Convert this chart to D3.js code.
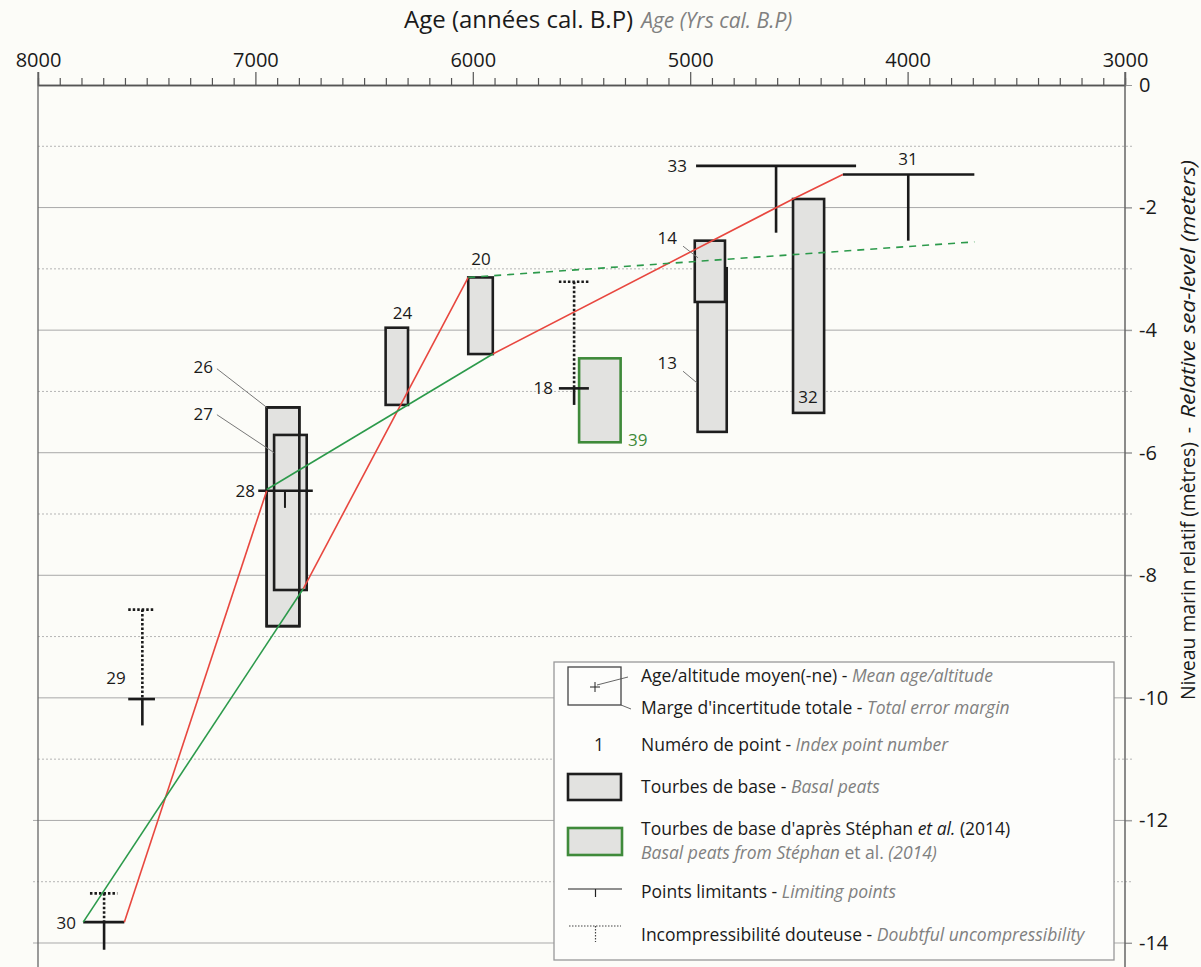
<!DOCTYPE html>
<html><head><meta charset="utf-8">
<script src="https://cdn.jsdelivr.net/npm/d3@7"></script>
<style>
body{margin:0;background:#fcfcf8}
svg{display:block}
text{font-family:"Open Sans",Lato,sans-serif;fill:#1a1a1a}
</style></head><body>
<svg id="c" width="1201" height="967"></svg>
<script>
// ---------- data ----------
const xMajorTicks = [8000, 7000, 6000, 5000, 4000, 3000];
const yTicks = [0, -2, -4, -6, -8, -10, -12, -14];

// basal peats (index points)
const peatId       = [26, 27, 24, 20, 13, 14, 32];
const peatAgeOld   = [6948, 6914, 6401, 6021, 4966, 4979, 4527];
const peatAgeYoung = [6798, 6764, 6298, 5908, 4832, 4840, 4384];
const peatTop      = [-5.26, -5.71, -3.96, -3.14, -2.99, -2.54, -1.86];
const peatBottom   = [-8.83, -8.24, -5.22, -4.39, -5.66, -3.54, -5.35];

// basal peats from Stéphan et al. (2014)
const stephanAgeOld   = [5511];
const stephanAgeYoung = [5320];
const stephanTop      = [-4.46];
const stephanBottom   = [-5.83];

// limiting points
const limId        = [33, 31, 28, 29, 30, 18];
const limAgeOld    = [4973, 4298, 6987, 7585, 7792, 5604];
const limAgeYoung  = [4237, 3693, 6736, 7462, 7603, 5466];
const limAgeMean   = [4605, 3997, 6864, 7520, 7696, 5534];
const limLevel     = [-1.32, -1.46, -6.62, -10.02, -13.66, -4.95];
const limLow       = [-2.41, -2.54, -6.90, -10.45, -14.11, -5.22];
// doubtful uncompressibility (dotted upper part)
const doubtTop      = [null, null, null, -8.56, -13.19, -3.21];
const doubtAgeOld   = [null, null, null, 7585, 7761, 5604];
const doubtAgeYoung = [null, null, null, 7462, 7635, 5466];

// sea-level envelopes
const redAge   = [[7603, 6948], [6780, 6021], [5908, 4527, 4298]];
const redLevel = [[-13.66, -6.62], [-8.22, -3.14], [-4.39, -1.86, -1.46]];
const greenAge   = [[7792, 6780], [6948, 5908]];
const greenLevel = [[-13.66, -8.22], [-6.60, -4.39]];
const greenDashAge   = [6021, 3693];
const greenDashLevel = [-3.14, -2.56];

// point labels
const labelText   = ["26","27","24","20","18","39","14","13","33","32","31","28","29","30"];
const labelAge    = [7195, 7195, 6323, 5962, 5631, 5286, 5061, 5061, 5015, 4458, 3998, 7002, 7641, 7825];
const labelLevel  = [-4.60, -5.36, -3.72, -2.83, -4.95, -5.79, -2.50, -4.53, -1.32, -5.09, -1.21, -6.62, -9.68, -13.67];
const labelAnchor = ["end","end","middle","middle","end","start","end","end","end","middle","middle","end","middle","end"];
const leaderAge   = [[7177, 6948], [7177, 6914], [5033, 4964], [5033, 4969]];
const leaderLevel = [[-4.63, -5.26], [-5.38, -6.00], [-2.63, -2.82], [-4.67, -4.86]];

// ---------- chart ----------
const FONT = "'Open Sans',Lato,sans-serif";
const svg = d3.select("#c");
const W = 1201, H = 967;
svg.append("rect").attr("width", W).attr("height", H).attr("fill", "#fcfcf8");

const x = d3.scaleLinear().domain([8000, 3000]).range([38, 1125]);
const y = d3.scaleLinear().domain([0, -14]).range([85, 943]);

// grid lines
const gridVals = d3.range(-1, -14.5, -1);
svg.append("g").selectAll("line").data(gridVals).join("line")
  .attr("x1", d => x(8000) - (d <= -12 ? 5 : 0)).attr("x2", x(3000) + 7)
  .attr("y1", d => y(d)).attr("y2", d => y(d))
  .attr("stroke", d => d % 2 === 0 ? "#a9a9a9" : "#b5b5b5")
  .attr("stroke-width", 1)
  .attr("stroke-dasharray", d => d % 2 === 0 ? null : "2,2");

// top axis
const minor = d3.range(8000, 2999, -100).filter(v => v % 1000 !== 0);
const gTop = svg.append("g").attr("transform", `translate(0,${y(0)})`);
gTop.call(d3.axisTop(x).tickValues(minor).tickSize(7).tickFormat(""));
gTop.call(g => g.append("g").call(d3.axisTop(x).tickValues(xMajorTicks).tickSize(13).tickPadding(5).tickFormat(d3.format("d"))));
gTop.selectAll(".domain").attr("stroke", "#555").attr("stroke-width", 1.3);
gTop.selectAll(".tick line").attr("stroke", "#555").attr("stroke-width", 1.2);
gTop.selectAll(".tick text").attr("font-size", 20).attr("font-family", FONT).attr("fill", "#1a1a1a");

// left frame line
svg.append("line").attr("x1", x(8000)).attr("x2", x(8000)).attr("y1", y(0) - 13).attr("y2", H)
  .attr("stroke", "#666").attr("stroke-width", 1.3);

// right axis
const gRight = svg.append("g").attr("transform", `translate(${x(3000)},0)`);
gRight.call(d3.axisRight(y).tickValues(yTicks).tickSize(7).tickPadding(7)
  .tickFormat(d => d === 0 ? "0" : "-" + Math.abs(d)));
gRight.select(".domain").remove();
gRight.selectAll(".tick line").attr("stroke", "#999");
gRight.selectAll(".tick text").attr("font-size", 20).attr("font-family", FONT).attr("fill", "#1a1a1a");
svg.append("line").attr("x1", x(3000)).attr("x2", x(3000)).attr("y1", y(0) - 13).attr("y2", H)
  .attr("stroke", "#666").attr("stroke-width", 1.5);

// axis titles
const tTop = svg.append("text").attr("x", 404).attr("y", 28).attr("font-size", 24);
tTop.append("tspan").text("Age (années cal. B.P)");
tTop.append("tspan").attr("font-style", "italic").attr("font-size", 21).attr("fill", "#808080").attr("dx", 8).text("Age (Yrs cal. B.P)");

const gT = svg.append("g").attr("transform", "translate(1195,0) rotate(-90)");
gT.append("text").attr("x", -700).attr("y", 0).attr("font-size", 19.5)
  .attr("textLength", 258).attr("lengthAdjust", "spacingAndGlyphs").text("Niveau marin relatif (mètres)");
gT.append("text").attr("x", -430).attr("y", 0).attr("font-size", 19.5).attr("text-anchor", "middle").text("-");
gT.append("text").attr("x", -418).attr("y", 0).attr("font-size", 20).attr("font-style", "italic").attr("fill", "#808080")
  .attr("textLength", 258).attr("lengthAdjust", "spacingAndGlyphs").text("Relative sea-level (meters)");

// peat boxes
const peats = peatId.map((id, i) => ({id, a0: peatAgeOld[i], a1: peatAgeYoung[i], t: peatTop[i], b: peatBottom[i]}));
const gPeat = svg.append("g");
gPeat.selectAll("rect").data(peats).join("rect")
  .attr("x", d => x(d.a0)).attr("y", d => y(d.t))
  .attr("width", d => x(d.a1) - x(d.a0)).attr("height", d => y(d.b) - y(d.t))
  .attr("fill", "#e2e2e0").attr("stroke", "#1e1e1e").attr("stroke-width", 2.6);
// outline of 26 remains visible through 27
gPeat.selectAll("rect.ov").data(peats.filter(d => d.id === 26)).join("rect").attr("class", "ov")
  .attr("x", d => x(d.a0)).attr("y", d => y(d.t))
  .attr("width", d => x(d.a1) - x(d.a0)).attr("height", d => y(d.b) - y(d.t))
  .attr("fill", "none").attr("stroke", "#1e1e1e").attr("stroke-width", 2.6);

const steph = stephanAgeOld.map((a, i) => ({a0: a, a1: stephanAgeYoung[i], t: stephanTop[i], b: stephanBottom[i]}));
svg.append("g").selectAll("rect").data(steph).join("rect")
  .attr("x", d => x(d.a0)).attr("y", d => y(d.t))
  .attr("width", d => x(d.a1) - x(d.a0)).attr("height", d => y(d.b) - y(d.t))
  .attr("fill", "#e2e2e0").attr("stroke", "#3f8a3a").attr("stroke-width", 2.6);

// limiting points
const lims = limId.map((id, i) => ({id, a0: limAgeOld[i], a1: limAgeYoung[i], am: limAgeMean[i], lv: limLevel[i], lo: limLow[i],
  dt: doubtTop[i], d0: doubtAgeOld[i], d1: doubtAgeYoung[i]}));
const gLim = svg.append("g").attr("stroke", "#1a1a1a").attr("stroke-width", 2.6);
gLim.selectAll("line.h").data(lims).join("line").attr("class", "h")
  .attr("x1", d => x(d.a0)).attr("x2", d => x(d.a1)).attr("y1", d => y(d.lv)).attr("y2", d => y(d.lv));
gLim.selectAll("line.v").data(lims).join("line").attr("class", "v")
  .attr("x1", d => x(d.am)).attr("x2", d => x(d.am)).attr("y1", d => y(d.lv)).attr("y2", d => y(d.lo))
  .attr("stroke-width", d => d.id === 28 ? 2 : 2.6);
const dl = lims.filter(d => d.dt !== null);
gLim.selectAll("line.dh").data(dl).join("line").attr("class", "dh")
  .attr("x1", d => x(d.d0)).attr("x2", d => x(d.d1)).attr("y1", d => y(d.dt)).attr("y2", d => y(d.dt))
  .attr("stroke-dasharray", "2.5,2").attr("stroke-width", 2.6);
gLim.selectAll("line.dv").data(dl).join("line").attr("class", "dv")
  .attr("x1", d => x(d.am)).attr("x2", d => x(d.am)).attr("y1", d => y(d.dt)).attr("y2", d => y(d.lv))
  .attr("stroke-dasharray", "2.5,2").attr("stroke-width", 2.6);

// envelopes
const line = d3.line().x(d => x(d[0])).y(d => y(d[1]));
svg.append("g").selectAll("path").data(redAge.map((a, i) => a.map((v, j) => [v, redLevel[i][j]]))).join("path")
  .attr("d", line).attr("fill", "none").attr("stroke", "#e8473f").attr("stroke-width", 1.6);
svg.append("g").selectAll("path").data(greenAge.map((a, i) => a.map((v, j) => [v, greenLevel[i][j]]))).join("path")
  .attr("d", line).attr("fill", "none").attr("stroke", "#2c9a4b").attr("stroke-width", 1.6);
svg.append("path").datum(greenDashAge.map((v, j) => [v, greenDashLevel[j]]))
  .attr("d", line).attr("fill", "none").attr("stroke", "#2c9a4b").attr("stroke-width", 1.6).attr("stroke-dasharray", "7,6");

// leaders and labels
svg.append("g").selectAll("line").data(leaderAge.map((a, i) => ({a, l: leaderLevel[i]}))).join("line")
  .attr("x1", d => x(d.a[0])).attr("x2", d => x(d.a[1])).attr("y1", d => y(d.l[0])).attr("y2", d => y(d.l[1]))
  .attr("stroke", "#777").attr("stroke-width", 1);
svg.append("g").selectAll("text").data(labelText.map((t, i) => ({t, a: labelAge[i], l: labelLevel[i], an: labelAnchor[i]}))).join("text")
  .attr("x", d => x(d.a)).attr("y", d => y(d.l)).attr("dy", "0.36em").attr("text-anchor", d => d.an)
  .attr("font-size", 17).style("fill", d => d.t === "39" ? "#3f8a3a" : "#1a1a1a").text(d => d.t);

// ---------- legend ----------
const LF = 17.5;
const lg = svg.append("g");
lg.append("rect").attr("x", 554).attr("y", 662).attr("width", 560).attr("height", 298)
  .attr("fill", "#fdfdfb").attr("stroke", "#999").attr("stroke-width", 1.3);
// item 1
lg.append("rect").attr("x", 568).attr("y", 667).attr("width", 53).attr("height", 38)
  .attr("fill", "#fdfdfb").attr("stroke", "#444").attr("stroke-width", 1.3);
lg.append("path").attr("d", "M590,687H600M595,682V692").attr("stroke", "#222").attr("stroke-width", 1);
lg.append("path").attr("d", "M597,685L628,677M621,705L631,709").attr("stroke", "#555").attr("stroke-width", 0.9);
lg.append("rect").attr("x", 568).attr("y", 774).attr("width", 53).attr("height", 26)
  .attr("fill", "#e2e2e0").attr("stroke", "#1e1e1e").attr("stroke-width", 2.6);
lg.append("rect").attr("x", 568).attr("y", 828).attr("width", 54).attr("height", 27)
  .attr("fill", "#e2e2e0").attr("stroke", "#3f8a3a").attr("stroke-width", 2.6);
lg.append("path").attr("d", "M568,889H622M595.5,889V897").attr("stroke", "#222").attr("stroke-width", 1.2);
lg.append("path").attr("d", "M569,926H621M595.5,926V942").attr("stroke", "#444").attr("stroke-width", 1.2).attr("stroke-dasharray", "1.5,1.5");
lg.append("text").attr("x", 599).attr("y", 745).attr("dy", "0.36em").attr("text-anchor", "middle").attr("font-size", LF).text("1");

const items = [
  [676, "Age/altitude moyen(-ne) - ", "Mean age/altitude"],
  [708, "Marge d'incertitude totale - ", "Total error margin"],
  [745, "Numéro de point - ", "Index point number"],
  [787, "Tourbes de base - ", "Basal peats"],
  [892, "Points limitants - ", "Limiting points"],
  [935, "Incompressibilité douteuse - ", "Doubtful uncompressibility"]
];
items.forEach(([yy, a, b]) => {
  const t = lg.append("text").attr("x", 641).attr("y", yy).attr("dy", "0.36em").attr("font-size", LF);
  t.append("tspan").text(a);
  t.append("tspan").attr("font-style", "italic").style("fill", "#808080").text(b);
});
const t5 = lg.append("text").attr("x", 641).attr("y", 829).attr("dy", "0.36em").attr("font-size", LF);
t5.append("tspan").text("Tourbes de base d'après Stéphan ");
t5.append("tspan").attr("font-style", "italic").text("et al.");
t5.append("tspan").text(" (2014)");
const t6 = lg.append("text").attr("x", 641).attr("y", 853).attr("dy", "0.36em").attr("font-size", LF);
t6.append("tspan").attr("font-style", "italic").style("fill", "#808080").text("Basal peats from Stéphan ");
t6.append("tspan").style("fill", "#808080").text("et al.");
t6.append("tspan").attr("font-style", "italic").style("fill", "#808080").text(" (2014)");
</script></body></html>
